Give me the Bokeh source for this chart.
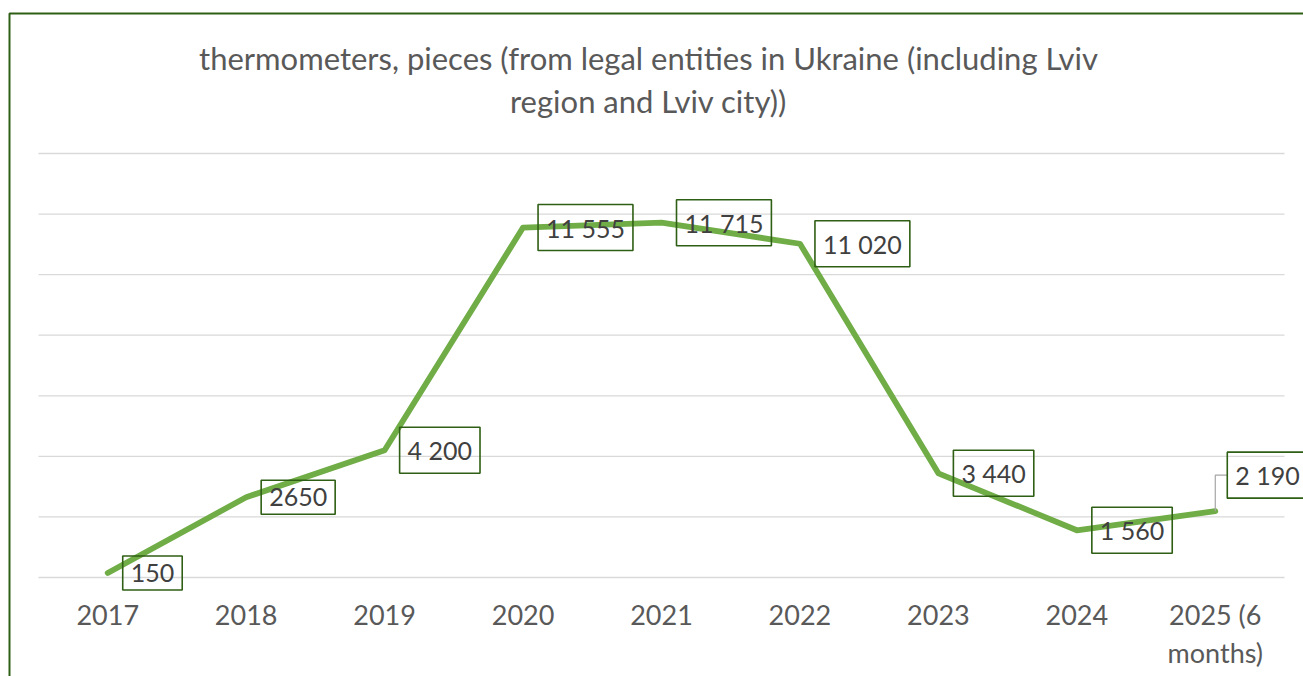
from bokeh.plotting import figure
from bokeh.models import Label, BoxAnnotation, Range1d
from bokeh.core.properties import value
from bokeh.embed import file_html
from bokeh.resources import INLINE

# ---- data ----
categories = ["2017", "2018", "2019", "2020", "2021", "2022", "2023", "2024", "2025 (6\nmonths)"]
values = [150, 2650, 4200, 11555, 11715, 11020, 3440, 1560, 2190]
value_labels = ["150", "2650", "4 200", "11 555", "11 715", "11 020", "3 440", "1 560", "2 190"]
y_ticks = [0, 2000, 4000, 6000, 8000, 10000, 12000, 14000]
title_lines = ["thermometers, pieces (from legal entities in Ukraine (including Lviv",
               "region and Lviv city))"]

# ---- layout constants (pixels) ----
W, H = 1303, 676
PL, PR, PT, PB = 38, 19, 153, 99      # plot area inset inside the canvas
YMAX = 14000
n = len(categories)
px_x = (W - PL - PR) / n              # px per category
px_y = (H - PT - PB) / YMAX           # px per value unit

GREEN = "#70AD47"
DARK = "#2F5F14"
GREY_TXT = "#595959"
FONT = "Lato"

p = figure(width=W, height=H,
           x_range=Range1d(-PL / px_x, n + PR / px_x),
           y_range=Range1d(-PB / px_y, YMAX + PT / px_y),
           x_axis_type=None, y_axis_type=None,
           output_backend="svg", toolbar_location=None,
           min_border=0, min_border_left=0, min_border_right=0,
           min_border_top=0, min_border_bottom=0)
p.title = None
p.outline_line_color = None
p.background_fill_color = "white"
p.border_fill_color = "white"
p.xgrid.visible = False
p.ygrid.visible = False

xs = [i + 0.5 for i in range(n)]

# horizontal gridlines over the category span
p.segment(x0=[0] * len(y_ticks), x1=[n] * len(y_ticks), y0=y_ticks, y1=y_ticks,
          line_color="#D9D9D9", line_width=1.3)

# category labels (split into first / second text line)
first_lines = [c.split("\n")[0] for c in categories]
second_lines = [c.split("\n")[1] if "\n" in c else "" for c in categories]
p.text(x=xs, y=[-37 / px_y] * n, text=first_lines, text_align="center",
       text_baseline="middle", text_font=value(FONT), text_font_size="27px",
       text_color=GREY_TXT)
p.text(x=xs, y=[-75 / px_y] * n, text=second_lines, text_align="center",
       text_baseline="middle", text_font=value(FONT), text_font_size="27px",
       text_color=GREY_TXT)

# series line
p.line(x=xs, y=values, line_color=GREEN, line_width=5.8,
       line_cap="round", line_join="round")

# label offsets (screen px)
dx = [15] * n
dy = [0] * n
dx[-1] = 12
dy[-1] = 36

# leader line for last label
y_top = values[-1] + dy[-1] / px_y
p.line(x=[xs[-1], xs[-1], xs[-1] + dx[-1] / px_x], y=[values[-1], y_top, y_top],
       line_color="#A6A6A6", line_width=1.2)

for i, (v, t) in enumerate(zip(values, value_labels)):
    p.add_layout(Label(x=xs[i], y=v, text=t, x_offset=dx[i], y_offset=dy[i],
                       text_align="left", text_baseline="middle",
                       text_font=FONT, text_font_size="25px", text_color="#404040",
                       border_line_color=DARK, border_line_width=1.6,
                       background_fill_color=None, padding=8))

# title
cx = (648 - PL) / px_x
for line_txt, ypix in zip(title_lines, [57, 100]):
    p.add_layout(Label(x=cx, y=(H - PB - ypix) / px_y, text=line_txt,
                       text_align="center", text_baseline="middle",
                       text_font=FONT, text_font_size="31px", text_color=GREY_TXT))

# chart border
p.add_layout(BoxAnnotation(left=(9 - PL) / px_x, right=n + 2,
                           top=(H - PB - 13) / px_y, bottom=-2 * YMAX,
                           fill_alpha=0, line_alpha=1, line_color=DARK, line_width=2))

open("out.html", "w").write(file_html(p, INLINE))
